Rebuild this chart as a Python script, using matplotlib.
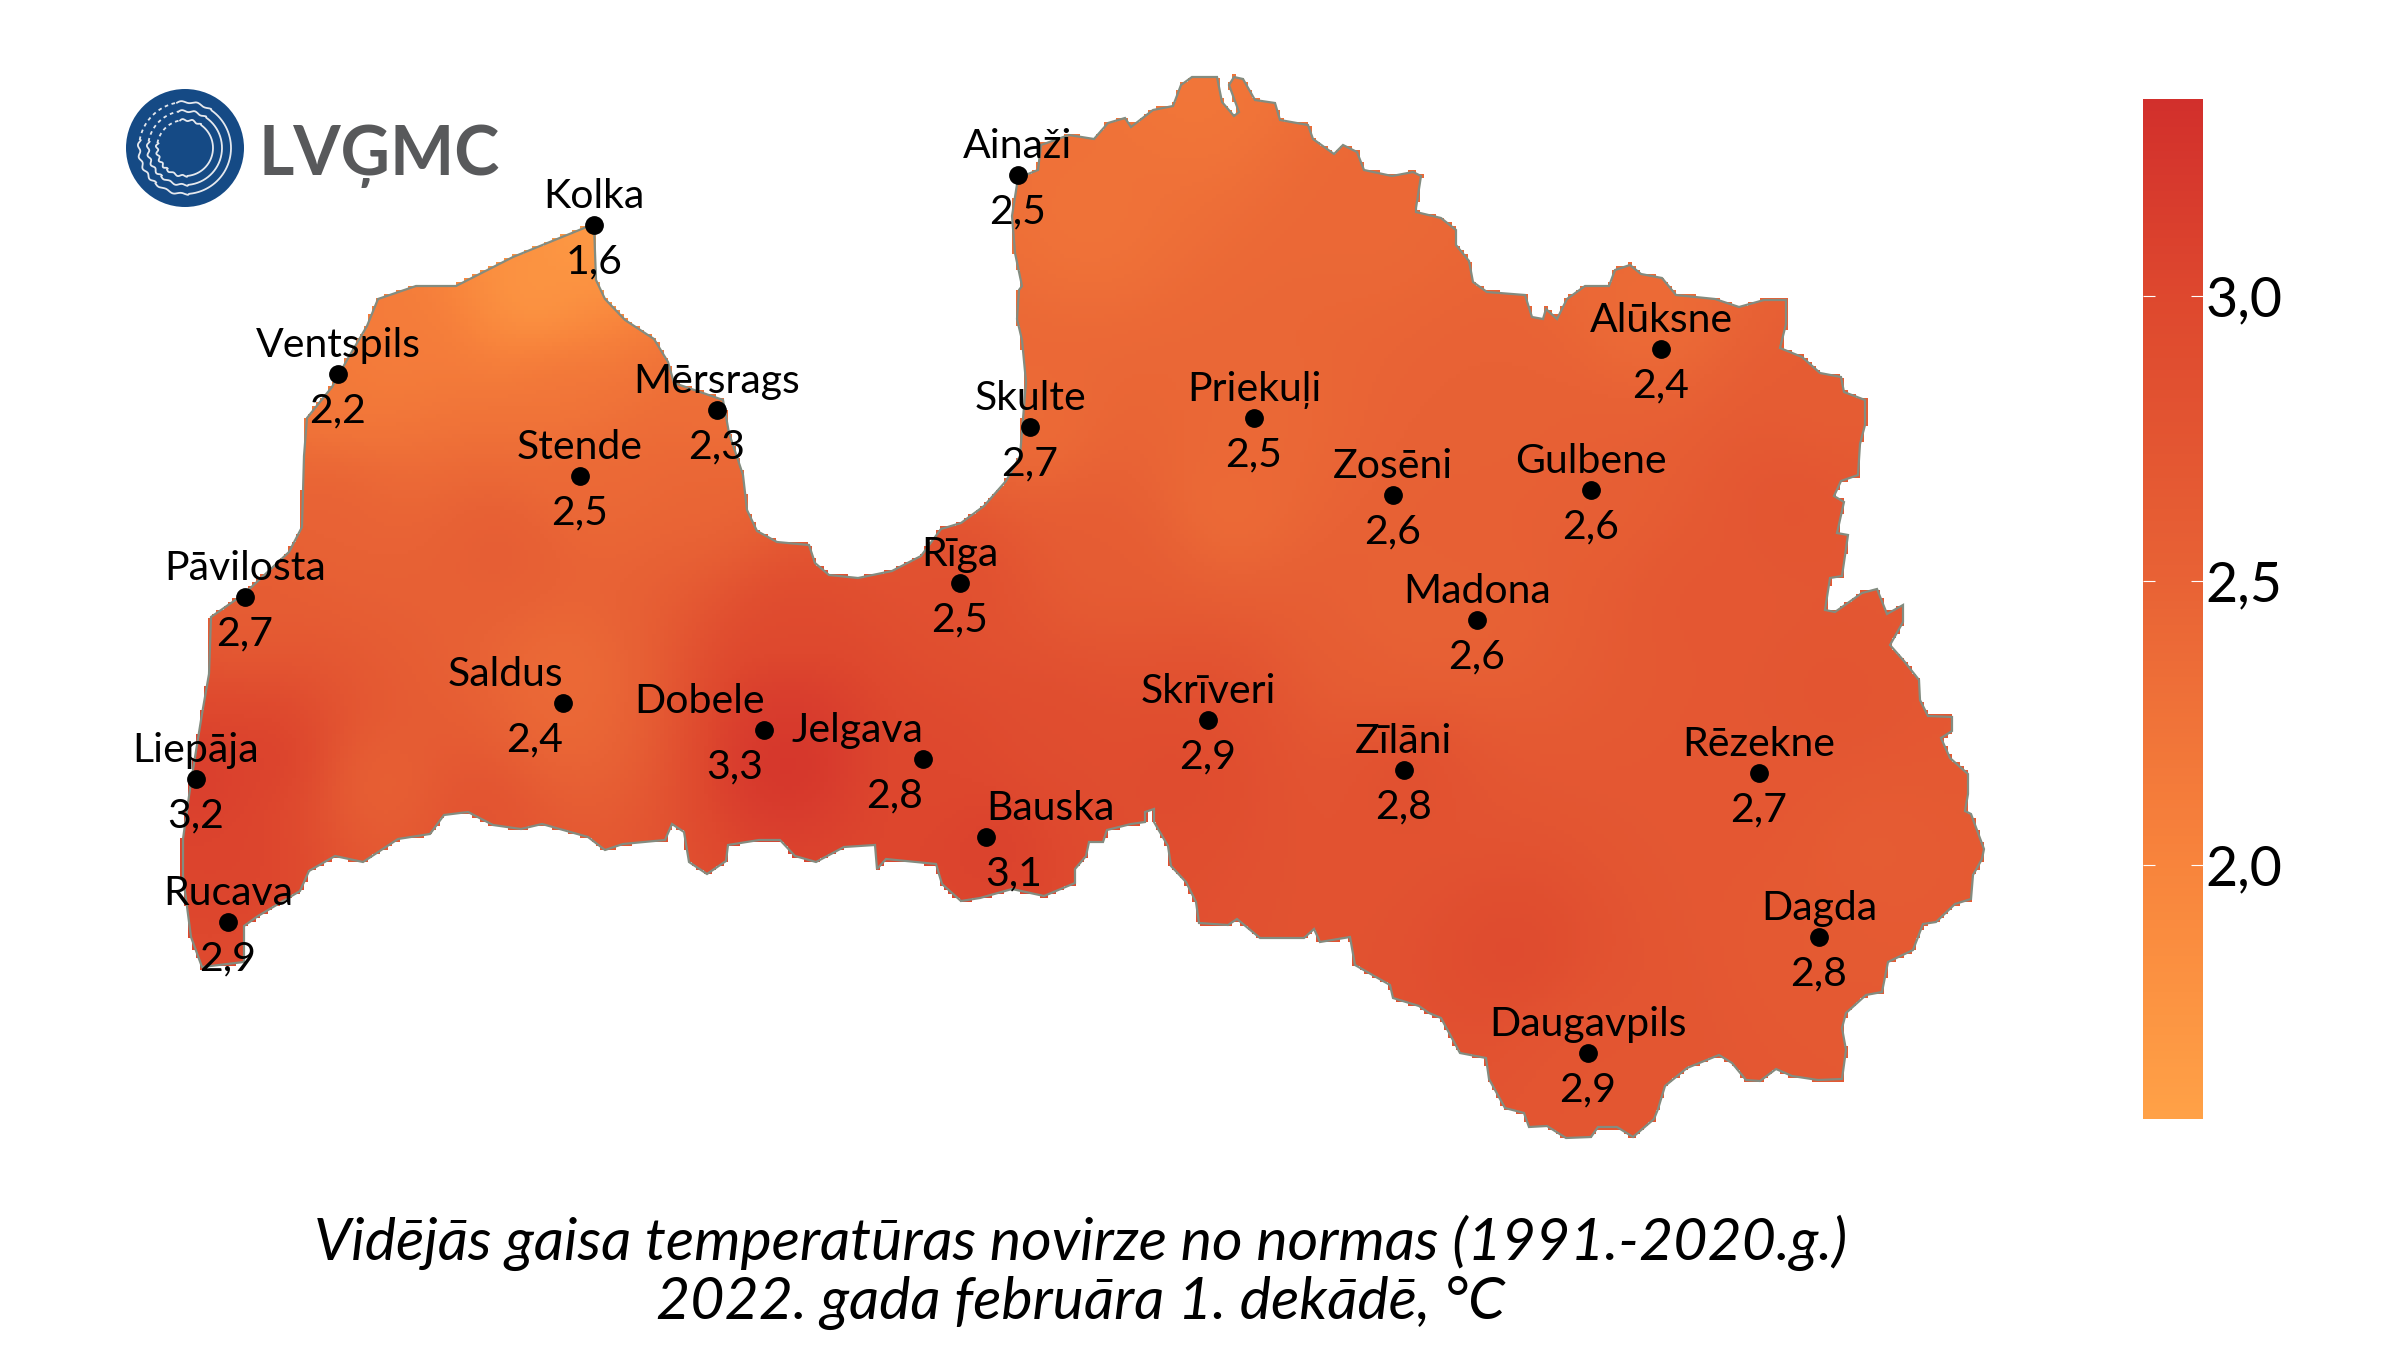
import numpy as np
import matplotlib
matplotlib.use("Agg")
import matplotlib.pyplot as plt
from matplotlib.colors import LinearSegmentedColormap, Normalize
from matplotlib.cm import ScalarMappable
from matplotlib.patches import Polygon, Circle
from matplotlib.path import Path

# stations, position on the map picture
stations = ["Kolka", "Ventspils", "Mērsrags", "Stende", "Pāvilosta", "Saldus", "Dobele", "Jelgava",
            "Liepāja", "Rucava", "Bauska", "Rīga", "Skulte", "Ainaži", "Priekuļi", "Zosēni",
            "Gulbene", "Alūksne", "Madona", "Skrīveri", "Zīlāni", "Rēzekne", "Dagda", "Daugavpils"]
station_x = [594, 338, 717, 580, 245, 563, 764, 923, 196, 228, 986, 960, 1030, 1018, 1254, 1393,
             1591, 1661, 1477, 1208, 1404, 1759, 1819, 1588]
station_y = [225, 374, 410, 476, 597, 703, 730, 759, 779, 922, 837, 583, 427, 175, 418, 495,
             490, 349, 620, 720, 770, 773, 937, 1053]
anomaly = [1.6, 2.2, 2.3, 2.5, 2.7, 2.4, 3.3, 2.8, 3.2, 2.9, 3.1, 2.5, 2.7, 2.5, 2.5, 2.6,
           2.6, 2.4, 2.6, 2.9, 2.8, 2.7, 2.8, 2.9]

# labels that do not sit centred on their dot: (name shift, value shift)
label_shift = {"Saldus": (-58, -28), "Dobele": (-64, -29), "Jelgava": (-66, -28), "Bauska": (64, 28)}

shade_x = [594, 536, 387, 338, 559, 717, 580, 703, 330, 502, 789, 245, 563, 566, 787, 787, 275, 200, 240, 380,
           480, 942, 1047, 990, 960, 1195, 1090, 1371, 1030, 1254, 1230, 1100, 1399, 1208, 1404, 1651, 1591, 1477,
           1792, 1830, 1768, 1866, 1738, 1820, 1515, 1610, 1588, 1183, 1374, 1500, 1700, 1830]
shade_y = [240, 295, 356, 390, 395, 420, 476, 490, 510, 548, 632, 597, 674, 720, 707, 758, 758, 780, 859, 785,
           810, 775, 741, 840, 583, 91, 216, 216, 427, 418, 506, 560, 626, 720, 770, 307, 490, 620,
           506, 700, 773, 849, 816, 940, 955, 1081, 1053, 766, 660, 400, 600, 400]
shade_v = [1.65, 1.7, 2.1, 2.15, 2.2, 2.3, 2.4, 2.45, 2.5, 2.6, 2.95, 2.6, 2.35, 2.4, 3.2, 3.3, 3.1, 3.15, 3.05, 2.5,
           2.8, 3.0, 2.9, 3.1, 2.85, 2.2, 2.25, 2.4, 2.35, 2.4, 2.35, 2.6, 2.45, 2.85, 2.85, 2.35, 2.55, 2.5,
           2.75, 2.75, 2.7, 2.6, 2.7, 2.65, 2.95, 2.7, 2.75, 2.95, 2.6, 2.5, 2.7, 2.6]

border = [(594, 224), (596, 280), (605, 299), (625, 320), (654, 339), (668, 362), (674, 383), (703, 393),
          (723, 400), (729, 433), (743, 475), (747, 510), (757, 531), (777, 542), (809, 545), (815, 563),
          (829, 575), (858, 578), (892, 571), (921, 556), (941, 529), (961, 523), (984, 506), (1006, 481),
          (1020, 456), (1026, 382), (1022, 340), (1017, 319), (1019, 290), (1022, 286), (1015, 253), (1012, 216),
          (1018, 178), (1038, 170), (1041, 145), (1069, 135), (1094, 139), (1108, 123), (1125, 118), (1131, 127),
          (1153, 110), (1173, 106), (1181, 85), (1192, 77), (1217, 77), (1222, 102), (1234, 116), (1239, 112),
          (1229, 85), (1234, 77), (1243, 79), (1255, 100), (1275, 103), (1280, 120), (1308, 125), (1313, 139),
          (1334, 154), (1343, 145), (1357, 152), (1364, 170), (1392, 176), (1413, 172), (1421, 176), (1416, 208),
          (1416, 212), (1441, 218), (1456, 230), (1456, 245), (1469, 261), (1473, 282), (1487, 292), (1525, 295),
          (1532, 317), (1543, 319), (1546, 309), (1557, 319), (1567, 299), (1585, 286), (1609, 286), (1615, 270),
          (1630, 265), (1641, 274), (1662, 278), (1676, 295), (1715, 299), (1739, 307), (1764, 300), (1786, 300),
          (1786, 324), (1780, 348), (1802, 357), (1820, 373), (1841, 377), (1844, 392), (1865, 400), (1865, 425),
          (1860, 444), (1858, 475), (1841, 481), (1834, 496), (1844, 502), (1837, 533), (1848, 535), (1842, 576),
          (1830, 578), (1825, 610), (1835, 612), (1862, 593), (1877, 589), (1887, 614), (1903, 605), (1903, 622),
          (1890, 645), (1904, 661), (1919, 680), (1920, 700), (1928, 716), (1952, 717), (1952, 731), (1941, 738),
          (1950, 758), (1968, 774), (1968, 794), (1965, 811), (1971, 814), (1984, 849), (1982, 859), (1973, 875),
          (1971, 899), (1955, 904), (1936, 922), (1923, 924), (1913, 950), (1888, 962), (1882, 992), (1866, 995),
          (1846, 1013), (1842, 1028), (1846, 1050), (1842, 1079), (1818, 1080), (1792, 1076), (1776, 1069), (1760, 1081),
          (1746, 1080), (1732, 1063), (1719, 1055), (1687, 1068), (1665, 1086), (1658, 1109), (1654, 1119), (1633, 1137),
          (1617, 1127), (1598, 1127), (1591, 1137), (1566, 1138), (1547, 1126), (1529, 1127), (1524, 1113), (1505, 1108),
          (1489, 1079), (1486, 1058), (1460, 1053), (1441, 1018), (1429, 1013), (1419, 1006), (1393, 998), (1390, 985),
          (1355, 965), (1350, 937), (1320, 942), (1314, 929), (1304, 938), (1260, 938), (1237, 919), (1228, 925),
          (1199, 923), (1196, 902), (1186, 882), (1171, 866), (1168, 846), (1154, 822), (1154, 809), (1145, 812),
          (1145, 822), (1131, 824), (1107, 830), (1103, 842), (1089, 842), (1086, 856), (1075, 869), (1075, 883),
          (1044, 896), (1012, 889), (980, 898), (961, 901), (942, 884), (936, 864), (886, 859), (877, 869),
          (875, 845), (844, 847), (816, 862), (795, 856), (780, 840), (759, 840), (728, 845), (726, 861),
          (707, 874), (689, 862), (684, 832), (672, 824), (665, 840), (623, 844), (605, 850), (588, 837),
          (542, 824), (521, 829), (493, 825), (468, 812), (444, 815), (430, 834), (398, 839), (363, 862),
          (335, 856), (309, 871), (300, 891), (258, 916), (244, 926), (244, 962), (202, 967), (191, 937),
          (183, 876), (183, 839), (191, 782), (202, 714), (209, 674), (211, 617), (244, 594), (289, 552),
          (302, 527), (304, 456), (307, 418), (332, 387), (347, 360), (367, 326), (378, 299), (416, 286),
          (456, 286), (513, 257)]

scale_colors = ["#FFA147", "#F8843C", "#E86235", "#DE482E", "#D22F2C"]
scale_stops = [1.554, 2.0, 2.5, 3.0, 3.346]
scale_ticks = [2.0, 2.5, 3.0]

title_lines = ["Vidējās gaisa temperatūras novirze no normas (1991.-2020.g.)",
               "2022. gada februāra 1. dekādē, °C"]

plt.rcParams['font.family'] = ['Lato', 'DejaVu Sans']

fig = plt.figure(figsize=(24, 13.5), dpi=100)
ax = fig.add_axes([0, 0, 1, 1])
ax.set_xlim(0, 2400)
ax.set_ylim(1350, 0)
ax.axis('off')

vmin, vmax = scale_stops[0], scale_stops[-1]
stops = [(s - vmin) / (vmax - vmin) for s in scale_stops]
cmap = LinearSegmentedColormap.from_list("anomaly", list(zip(stops, scale_colors)))
norm = Normalize(vmin, vmax)

# raster field with a blocky edge, like the original grid
gx, gy = np.meshgrid(np.arange(150, 2000, 4), np.arange(60, 1150, 4))
sx = np.array(shade_x)[:, None, None]
sy = np.array(shade_y)[:, None, None]
weights = 1 / ((gx - sx) ** 2 + (gy - sy) ** 2 + 50 ** 2) ** 1.5
field = (weights * np.array(shade_v)[:, None, None]).sum(axis=0) / weights.sum(axis=0)
inside = Path(border).contains_points(np.c_[gx.ravel(), gy.ravel()], radius=2).reshape(gx.shape)
field = np.ma.masked_where(~inside, field)

ax.imshow(field, extent=(148, 2000, 1150, 58), cmap=cmap, norm=norm, interpolation='nearest',
          aspect='auto', zorder=2)
ax.add_patch(Polygon(border, closed=True, facecolor='none', edgecolor='#838C80', linewidth=1.6, zorder=3))
ax.set_xlim(0, 2400)
ax.set_ylim(1350, 0)

ax.plot(station_x, station_y, 'o', color='black', markersize=12.5, zorder=4)
for name, x, y, val in zip(stations, station_x, station_y, anomaly):
    dx_name, dx_val = label_shift.get(name, (0, 0))
    ax.text(x + dx_name, y - 17, name, ha='center', va='baseline', fontsize=29.5, color='black', zorder=5)
    ax.text(x + dx_val, y + 48, f"{val:.1f}".replace('.', ','), ha='center', va='baseline',
            fontsize=29.5, color='black', zorder=5)

# logo
logo_x, logo_y = 185, 148
ax.add_patch(Circle((logo_x, logo_y), 59, facecolor='#154A85', edgecolor='none', zorder=2))
for r in [28, 37, 46]:
    t = np.linspace(-100, 130, 200)
    wob = 1.0 * np.sin(np.radians(t) * 18) * (np.abs(t - 15) > 70)
    ax.plot(logo_x + (r + wob) * np.cos(np.radians(t)), logo_y + (r + wob) * np.sin(np.radians(t)),
            color='#E6E9EE', lw=1.3, zorder=3)
    t = np.linspace(130, 190, 60)
    wob = 1.2 * np.sin(np.radians(t) * 24)
    ax.plot(logo_x + (r + wob) * np.cos(np.radians(t)), logo_y + (r + wob) * np.sin(np.radians(t)),
            color='#E6E9EE', lw=1.3, zorder=3)
    t = np.linspace(190, 260, 40)
    ax.plot(logo_x + r * np.cos(np.radians(t)), logo_y + r * np.sin(np.radians(t)),
            color='#E6E9EE', lw=1.3, ls=(0, (2, 2)), zorder=3)
ax.text(258, 175, "LVĢMC", ha='left', va='baseline', fontsize=49, color='#58595B', fontweight='bold')

# title
ax.text(1081, 1260, title_lines[0], ha='center', va='baseline', fontsize=42.5, style='italic', color='black')
ax.text(1081, 1319, title_lines[1], ha='center', va='baseline', fontsize=42.5, style='italic', color='black')

# colour bar
cax = fig.add_axes([2143 / 2400, 1 - 1119 / 1350, 60 / 2400, 1020 / 1350])
cb = fig.colorbar(ScalarMappable(norm=norm, cmap=cmap), cax=cax, ticks=scale_ticks)
cb.outline.set_visible(False)
cb.ax.set_yticklabels([f"{t:.1f}".replace('.', ',') for t in scale_ticks])
cb.ax.tick_params(axis='y', which='major', direction='in', left=True, right=True, length=8.5, width=0.8,
                  color='white', labelsize=40, pad=2, labelcolor='black')

fig.savefig("out.png", dpi=100, facecolor='white')
